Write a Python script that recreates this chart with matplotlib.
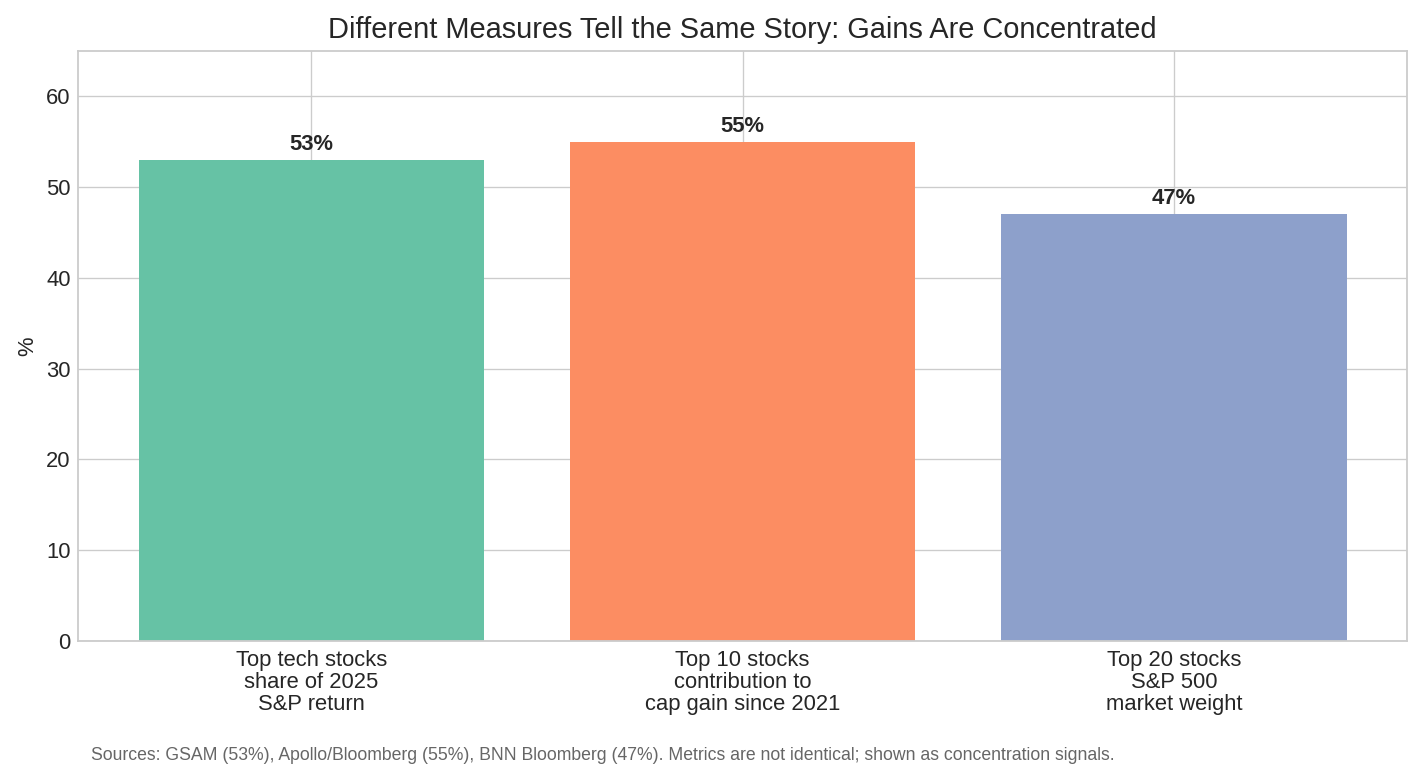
import matplotlib
matplotlib.use("Agg")
import matplotlib.pyplot as plt

# Data
labels = ["Top tech stocks\nshare of 2025\nS&P return",
          "Top 10 stocks\ncontribution to\ncap gain since 2021",
          "Top 20 stocks\nS&P 500\nmarket weight"]
values = [53, 55, 47]
colors = ["#66c2a5", "#fc8d62", "#8da0cb"]
source = ("Sources: GSAM (53%), Apollo/Bloomberg (55%), BNN Bloomberg (47%). "
          "Metrics are not identical; shown as concentration signals.")

plt.style.use("seaborn-v0_8-whitegrid")
plt.rcParams["font.family"] = ["Liberation Sans", "DejaVu Sans"]


def main():
    fig, ax = plt.subplots(figsize=(1424 / 120, 780 / 120), dpi=120)
    x = range(len(values))
    bars = ax.bar(x, values, color=colors, width=0.8, zorder=2)

    for b, v in zip(bars, values):
        ax.annotate(f"{v}%", (b.get_x() + b.get_width() / 2, v),
                    xytext=(0, 3), textcoords="offset points",
                    ha="center", va="bottom", fontsize=13.2, fontweight="bold",
                    color="#262626")

    ax.set_xticks(list(x))
    ax.set_xticklabels(labels, fontsize=13.2, linespacing=1.06)
    ax.tick_params(axis="y", labelsize=13.2, pad=4.5)
    ax.tick_params(axis="x", labelsize=13.2, pad=5.5)
    ax.set_ylim(0, 65)
    ax.set_ylabel("%", fontsize=13.2, labelpad=5)
    ax.set_title("Different Measures Tell the Same Story: Gains Are Concentrated",
                 fontsize=17.4, pad=7.5)
    for s in ax.spines.values():
        s.set_visible(True)
        s.set_color("#cccccc")
        s.set_linewidth(1.1)

    fig.subplots_adjust(left=0.055, right=0.988, top=0.935, bottom=0.178)
    fig.text(0.064, 0.026, source, fontsize=10.6, color="#666666", ha="left")

    fig.savefig("out.png", dpi=120)


if __name__ == "__main__":
    main()
